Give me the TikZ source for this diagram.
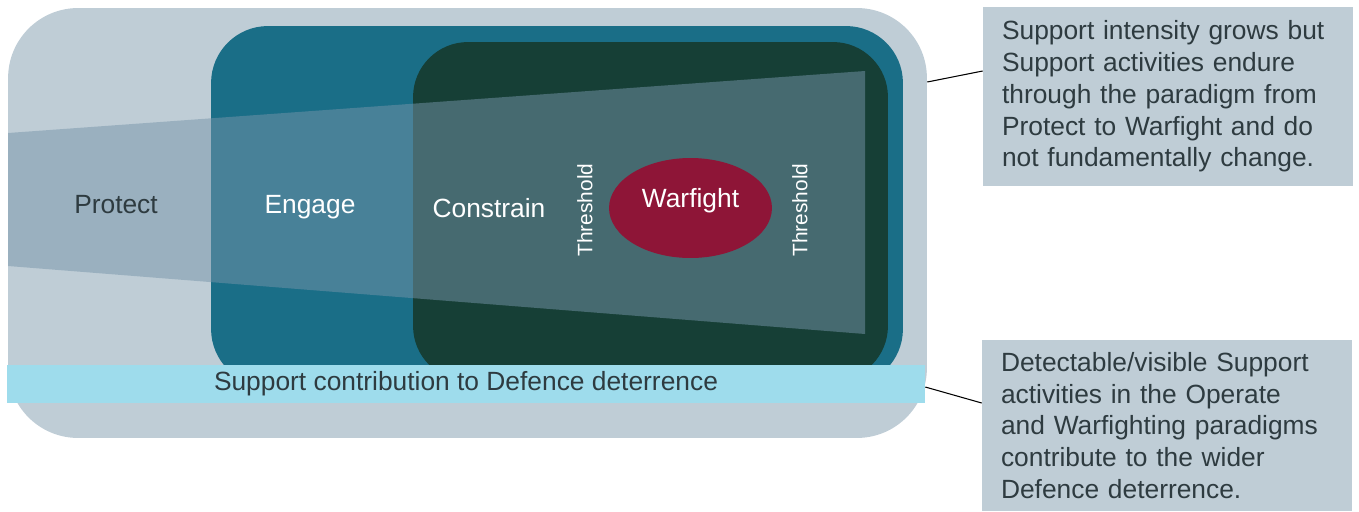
\documentclass[tikz,border=0pt]{standalone}
\usepackage{fontspec}
\setmainfont{Liberation Sans}
\usetikzlibrary{shapes.geometric}

\definecolor{paleblue}{HTML}{BFCDD6}
\definecolor{tealblue}{HTML}{1A6E87}
\definecolor{darkgreen}{HTML}{163F36}
\definecolor{crimson}{HTML}{8E1537}
\definecolor{skyband}{HTML}{9EDCEC}
\definecolor{slatetext}{HTML}{2E3B40}
\definecolor{wedge}{RGB}{119,149,170}

\begin{document}
\begin{tikzpicture}[
                x=0.02cm, y=-0.02cm,          % one unit per pixel, y down
                every node/.style={
                    inner sep=0pt,
                    font=\fontsize{15}{18.1}\selectfont
                },
                zone/.style={rectangle, rounded corners=1.4cm},
                word/.style={anchor=base, text=white},
                threshold/.style={rotate=90, text=white,
                    font=\fontsize{11.9}{14}\selectfont},
                note/.style={
                    fill=paleblue, text=slatetext,
                    minimum width=7.4cm,
                    text width=6.64cm,
                    align=left
                },
                link/.style={line width=0.6pt}
            ]
                \useasboundingbox (0,0) rectangle (1359,511);

                % zones
                \node[zone, fill=paleblue, minimum width=18.38cm, minimum height=8.6cm]
                    (protectzone) at (467.5,223) {};
                \node[zone, fill=tealblue, rounded corners=1.14cm,
                    minimum width=13.84cm, minimum height=7.2cm]
                    (engagezone) at (557,206) {};
                \node[zone, fill=darkgreen, rounded corners=1.1cm,
                    minimum width=9.5cm, minimum height=6.78cm]
                    (constrainzone) at (650.5,211.5) {};

                % widening support wedge
                \fill[wedge, opacity=0.5] (8,133) -- (865,71) -- (865,334) -- (8,266) -- cycle;

                % deterrence band
                \node[fill=skyband, text=slatetext, minimum width=18.36cm, minimum height=0.76cm]
                    (band) at (466,384) {Support contribution to Defence deterrence};

                % labels
                \node[word, text=slatetext] (protect) at (116,213) {Protect};
                \node[word] (engage) at (310,213) {Engage};
                \node[word] (constrain) at (489,217) {Constrain};
                \node[threshold] (lowthreshold) at (585,210) {Threshold};
                \node[threshold] (highthreshold) at (800,210) {Threshold};
                \node[ellipse, fill=crimson, minimum width=3.26cm, minimum height=2cm,
                    label={[text=white, yshift=0.156cm]center:Warfight}]
                    (warfight) at (690.5,208) {};

                % notes
                \node[note, minimum height=3.58cm] (intensity) at (1168,96.5)
                    {Support intensity grows but\\
                     Support activities endure\\
                     through the paradigm from\\
                     Protect to Warfight and do\\
                     not fundamentally change.};
                \node[note, minimum height=3.42cm] (deterrence) at (1167,425.5)
                    {Detectable/visible Support\\
                     activities in the Operate\\
                     and Warfighting paradigms\\
                     contribute to the wider\\
                     Defence deterrence.};

                % links
                \draw[link] (protectzone.east |- 0,82) -- (intensity.west |- 0,71);
                \draw[link] (band.east |- 0,387) -- (deterrence.west |- 0,403);
            \end{tikzpicture}
\end{document}
